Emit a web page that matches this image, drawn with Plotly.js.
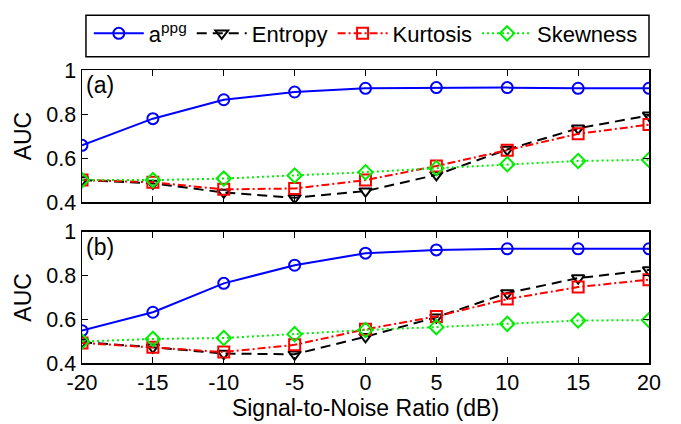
<!DOCTYPE html>
<html>
<head>
<meta charset="utf-8">
<script src="https://cdn.plot.ly/plotly-3.0.1.min.js"></script>
<style>html,body{margin:0;padding:0;background:#fff;}#chart{width:681px;height:424px;}</style>
</head>
<body>
<div id="chart"></div>
<script>
const snr = [-20, -15, -10, -5, 0, 5, 10, 15, 20];
const seriesNames = ['a<sup>ppg</sup>', 'Entropy', 'Kurtosis', 'Skewness'];
// Panel (a)
const appgA     = [0.658, 0.779, 0.865, 0.900, 0.917, 0.920, 0.920, 0.917, 0.917];
const entropyA  = [0.500, 0.485, 0.444, 0.420, 0.450, 0.524, 0.639, 0.735, 0.794];
const kurtosisA = [0.500, 0.490, 0.458, 0.462, 0.500, 0.564, 0.636, 0.710, 0.752];
const skewnessA = [0.500, 0.500, 0.507, 0.521, 0.536, 0.554, 0.572, 0.587, 0.592];
// Panel (b)
const appgB     = [0.548, 0.632, 0.764, 0.847, 0.902, 0.917, 0.922, 0.922, 0.922];
const entropyB  = [0.495, 0.472, 0.443, 0.440, 0.520, 0.609, 0.720, 0.788, 0.825];
const kurtosisB = [0.492, 0.472, 0.450, 0.483, 0.554, 0.613, 0.692, 0.747, 0.781];
const skewnessB = [0.498, 0.510, 0.514, 0.532, 0.551, 0.564, 0.579, 0.594, 0.596];
const panelLabels = ['(a)', '(b)'];
const xTicks = [-20, -15, -10, -5, 0, 5, 10, 15, 20];
const xTickText = ['-20', '-15', '-10', '-5', '0', '5', '10', '15', '20'];
const yTicks = [0.4, 0.6, 0.8, 1];
const yTickText = ['0.4', '0.6', '0.8', '1'];

const styles = [
  {color: '#0000ff', dash: 'solid', symbol: 'circle-open', size: 11},
  {color: '#000000', dash: '10px,6px', symbol: 'triangle-down-open', size: 11},
  {color: '#ff0000', dash: '8px,3px,2px,3px', symbol: 'square-open', size: 11},
  {color: '#00ee00', dash: '2px,3px', symbol: 'diamond-open', size: 11}
];
const dataA = [appgA, entropyA, kurtosisA, skewnessA];
const dataB = [appgB, entropyB, kurtosisB, skewnessB];

const traces = [];
[[dataA, 'x', 'y'], [dataB, 'x2', 'y2']].forEach(([set, xa, ya], p) => {
  set.forEach((vals, i) => {
    const s = styles[i];
    traces.push({
      x: snr, y: vals, xaxis: xa, yaxis: ya, type: 'scatter', mode: 'lines+markers',
      name: seriesNames[i], legendgroup: 'g' + i, showlegend: p === 0,
      line: {color: s.color, width: 2, dash: s.dash},
      marker: {symbol: s.symbol, size: s.size, color: s.color, line: {color: s.color, width: 2}}
    });
  });
});

const fam = 'Arial, Liberation Sans, sans-serif';
const font = {family: fam, size: 21.5, color: '#000'};
const titleFont = {family: fam, size: 23, color: '#000'};
const axisCommon = {
  showline: true, linecolor: '#000', linewidth: 1.5, mirror: 'ticks',
  ticks: 'inside', ticklen: 6, tickwidth: 1, tickcolor: '#000',
  showgrid: false, zeroline: false, tickfont: font
};
const layout = {
  width: 681, height: 424,
  margin: {l: 82, r: 32, t: 64, b: 61},
  paper_bgcolor: '#fff', plot_bgcolor: '#fff',
  font: font,
  showlegend: true,
  legend: {
    orientation: 'h', x: 0.012, xanchor: 'left', y: 1.196, yanchor: 'top',
    bgcolor: 'rgba(0,0,0,0)', borderwidth: 0, font: {family: fam, size: 22, color: '#000'},
    itemwidth: 50, tracegroupgap: 0
  },
  xaxis: Object.assign({}, axisCommon, {domain: [0, 1], anchor: 'y', range: [-20, 20], tickvals: xTicks, ticktext: xTickText, showticklabels: false}),
  yaxis: Object.assign({}, axisCommon, {domain: [0.549, 1], anchor: 'x', range: [0.4, 1], tickvals: yTicks, ticktext: yTickText,
    title: {text: 'AUC', font: titleFont, standoff: 8}}),
  xaxis2: Object.assign({}, axisCommon, {domain: [0, 1], anchor: 'y2', range: [-20, 20], tickvals: xTicks, ticktext: xTickText,
    title: {text: 'Signal-to-Noise Ratio (dB)', font: titleFont, standoff: 1}}),
  yaxis2: Object.assign({}, axisCommon, {domain: [0, 0.448], anchor: 'x2', range: [0.4, 1], tickvals: yTicks, ticktext: yTickText,
    title: {text: 'AUC', font: titleFont, standoff: 8}}),
  annotations: panelLabels.map((t, i) => ({
    text: t, xref: i === 0 ? 'x domain' : 'x2 domain', yref: i === 0 ? 'y domain' : 'y2 domain',
    x: 0.004, y: 1.0, xanchor: 'left', yanchor: 'top', showarrow: false, font: titleFont
  })),
  shapes: [{
    type: 'rect', xref: 'paper', yref: 'paper', x0: 0.007, x1: 1.0, y0: 1.045, y1: 1.187,
    line: {color: '#000', width: 1.5}, fillcolor: '#fff', layer: 'below'
  }]
};
Plotly.newPlot('chart', traces, layout, {displayModeBar: false, staticPlot: true});
</script>
</body>
</html>
